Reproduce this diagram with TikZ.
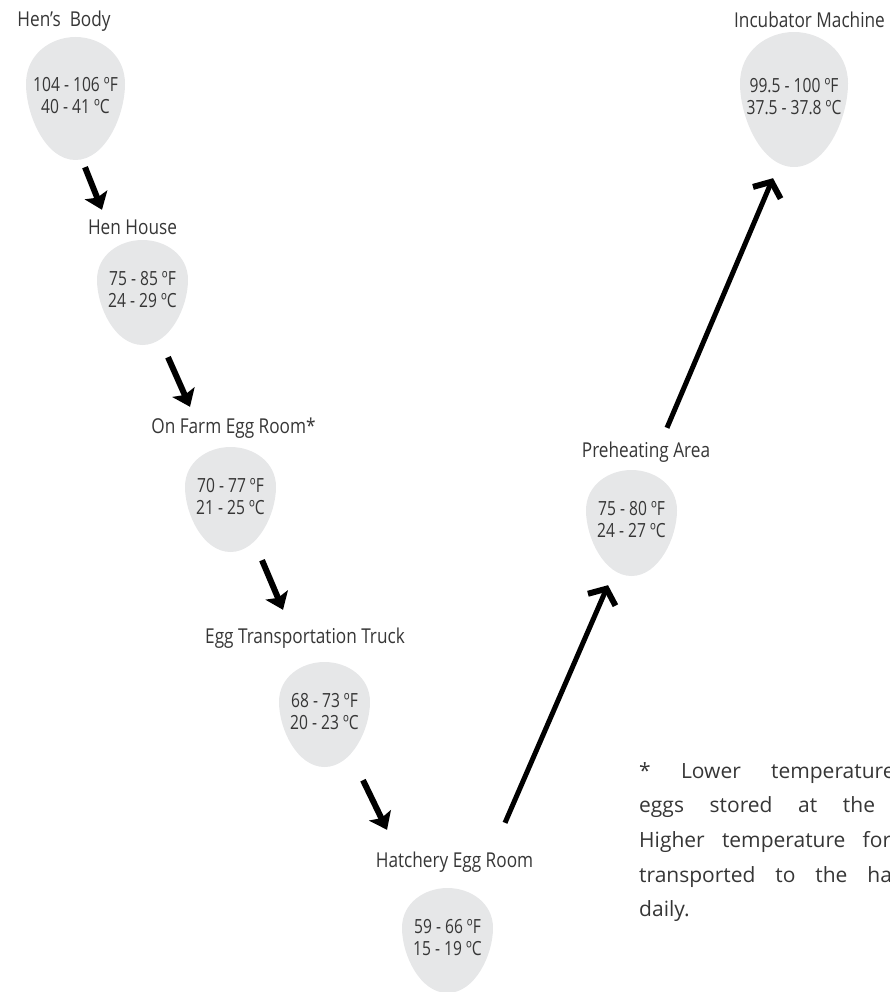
\documentclass[tikz,border=0pt]{standalone}
\usepackage{fontspec}
\setmainfont{Open Sans}
\newfontfamily\condfont[FakeStretch=0.84]{Open Sans}
\newfontfamily\eggfont[FakeStretch=0.8]{Open Sans}
\usepackage{xcolor}
\usetikzlibrary{arrows.meta,positioning}
\definecolor{eggfill}{HTML}{E6E7E8}
\definecolor{txtgray}{HTML}{363636}

\begin{document}
\begin{tikzpicture}[x=1pt, y=-1pt,
    eggtext/.style={inner sep=0pt, align=center, font=\eggfont\fontsize{19.5}{22}\selectfont, text=txtgray},
    placename/.style={anchor=base, inner sep=0pt, font=\condfont\fontsize{20.5}{24}\selectfont, text=txtgray},
    arrdown/.style={line width=6pt, -{Stealth[length=16pt, width=24pt, inset=3pt]}},
    arrup/.style={line width=5pt, -{Straight Barb[length=12pt, width=30pt, line width=6pt]}}
  ]
    \useasboundingbox (0,0) rectangle (890,992);

    % eggs: name/x/y/width/height/F/C
    \foreach \n/\px/\py/\w/\h/\tf/\tc in {
        e1/75.5/98.5/99/123/{104 - 106 ºF}/{40 - 41 ºC},
        e2/142.5/292.5/91/105/{75 - 85 ºF}/{24 - 29 ºC},
        e3/230.5/499.5/91/105/{70 - 77 ºF}/{21 - 25 ºC},
        e4/324.5/714.5/91/105/{68 - 73 ºF}/{20 - 23 ºC},
        e5/447.5/940.5/91/105/{59 - 66 ºF}/{15 - 19 ºC},
        e6/631.5/523/91/106/{75 - 80 ºF}/{24 - 27 ºC},
        e7/794/99.5/108/135/{99.5 - 100 ºF}/{37.5 - 37.8 ºC}}
    {
      \fill[eggfill, shift={(\px,\py)}, x=\w pt, y=-\h pt]
        (0,-0.5) .. controls (0.25,-0.5) and (0.5,-0.36) .. (0.5,-0.12)
        .. controls (0.5,0.14) and (0.3,0.5) .. (0,0.5)
        .. controls (-0.3,0.5) and (-0.5,0.14) .. (-0.5,-0.12)
        .. controls (-0.5,-0.36) and (-0.25,-0.5) .. (0,-0.5) -- cycle;
      \node[eggtext, minimum width=\w pt, minimum height=\h pt] (\n) at (\px,\py-3) {\tf\\\tc};
    }

    \node[placename] (l1) at (64,27) {Hen’s~ Body};
    \node[placename] (l2) at (132.5,235) {Hen House};
    \node[placename] (l3) at (233.5,433) {On Farm Egg Room*};
    \node[placename] (l4) at (305,643) {Egg Transportation Truck};
    \node[placename] (l5) at (454.5,867) {Hatchery Egg Room};
    \node[placename] (l6) at (646,457) {Preheating Area};
    \node[placename] (l7) at (809.5,28) {Incubator Machine};

    \draw[arrdown] ([shift={(9.5,10)}]e1.south) -- ([shift={(-40.5,-27)}]e2.north);
    \draw[arrdown] ([shift={(25.5,15)}]e2.south) -- ([shift={(-40.5,-37)}]e3.north);
    \draw[arrdown] ([shift={(31.5,11)}]e3.south) -- ([shift={(-41.5,-49)}]e4.north);
    \draw[arrdown] ([shift={(38.5,16)}]e4.south) -- ([shift={(-60.5,-55)}]e5.north);
    \draw[arrup] ([shift={(57.5,-62)}]e5.north) -- ([shift={(-23.5,12)}]e6.south);
    \draw[arrup] ([shift={(35.5,-39)}]e6.north) -- ([shift={(-21,14)}]e7.south);

    \node[anchor=base west, text width=314pt, align=justify, inner sep=0pt,
      font=\fontsize{21}{34.7}\selectfont, text=txtgray] (note) at (639,778)
      {* Lower temperature for\linebreak eggs stored at the farm.\linebreak
       Higher temperature for eggs\linebreak transported to the hatchery\linebreak daily.};
\end{tikzpicture}
\end{document}
